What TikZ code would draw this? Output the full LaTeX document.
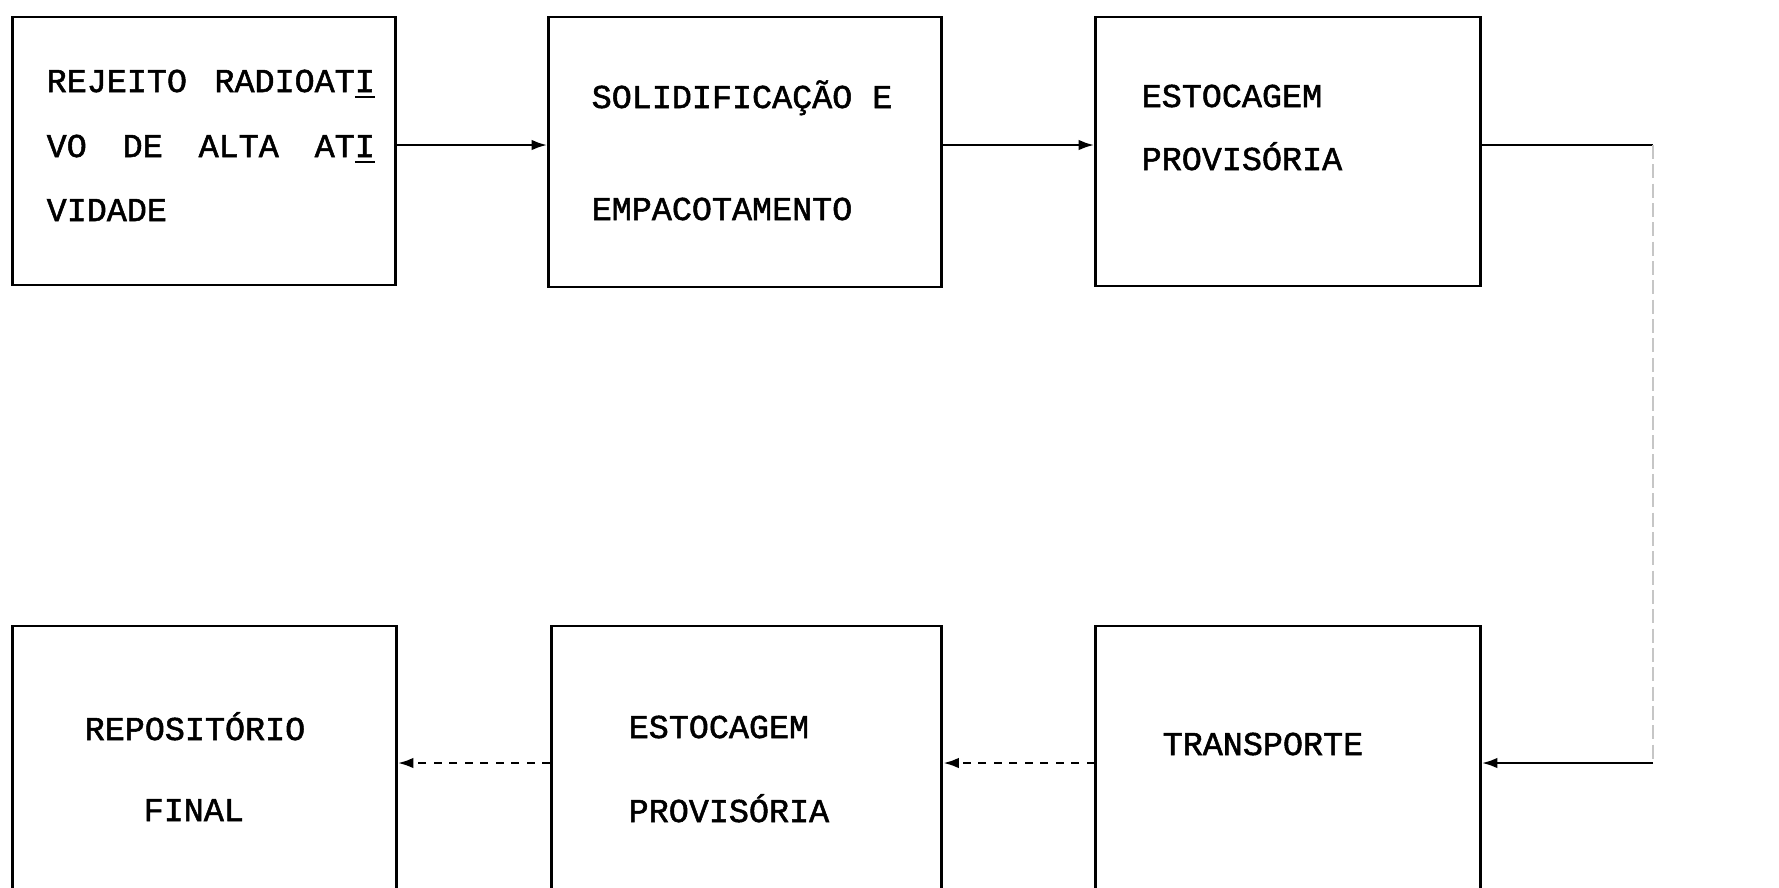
\documentclass[tikz,border=0pt]{standalone}
\usepackage{fontspec}
\newfontfamily\twfont[FakeBold=1.5]{Liberation Mono}
\usetikzlibrary{arrows.meta}
\begin{document}
\begin{tikzpicture}[x=0.01cm,y=-0.01cm,
  box/.style={draw, line width=0.8pt, inner sep=0pt},
  lbl/.style={anchor=base west, inner sep=0pt, font=\twfont\fontsize{9.5}{11}\selectfont},
  plain/.style={line width=0.8pt},
  conn/.style={line width=0.8pt, -{Latex[length=4.5pt,width=3pt]}},
  dconn/.style={line width=0.8pt, dash pattern=on 2.2pt off 2.2pt, -{Latex[length=4.5pt,width=3pt]}},
  faint/.style={line width=0.4pt, gray!45, dash pattern=on 4pt off 1.5pt}]
\clip (0,0) rectangle (1779,887);
\fill[white] (0,0) rectangle (1779,887);
% boxes
\node[box, minimum width=3.82cm, minimum height=2.68cm] (b1) at (204,151) {};
\node[box, minimum width=3.92cm, minimum height=2.70cm] (b2) at (745,152) {};
\node[box, minimum width=3.84cm, minimum height=2.69cm] (b3) at (1288,151.5) {};
\node[box, minimum width=3.83cm, minimum height=3.0cm] (b4) at (204.5,776) {};
\node[box, minimum width=3.90cm, minimum height=3.0cm] (b5) at (746.5,776) {};
\node[box, minimum width=3.84cm, minimum height=3.0cm] (b6) at (1288,776) {};
% texts
\node[lbl] (t1a) at (46,92) {\makebox[3.28cm][l]{REJEITO\hfill RADIOAT\underline{I}}};
\node[lbl] (t1b) at (46,157) {\makebox[3.28cm][l]{VO\hfill DE\hfill ALTA\hfill AT\underline{I}}};
\node[lbl] (t1c) at (46,221) {VIDADE};
\node[lbl] (t2a) at (591,108) {SOLIDIFICAÇÃO E};
\node[lbl] (t2b) at (591,220) {EMPACOTAMENTO};
\node[lbl] (t3a) at (1141,107) {ESTOCAGEM};
\node[lbl] (t3b) at (1141,170) {PROVISÓRIA};
\node[lbl] (t4a) at (84,740) {REPOSITÓRIO};
\node[lbl] (t4b) at (143,821) {FINAL};
\node[lbl] (t5a) at (628,738) {ESTOCAGEM};
\node[lbl] (t5b) at (628,822) {PROVISÓRIA};
\node[lbl] (t6) at (1162,755) {TRANSPORTE};
% connectors
\coordinate (c1) at (1653,145);
\coordinate (c2) at (1653,763);
\draw[conn] (b1.east |- c1) -- (b2.west |- c1);
\draw[conn] (b2.east |- c1) -- (b3.west |- c1);
\draw[plain] (b3.east |- c1) -- (c1);
\draw[faint] (c1) -- (c2);
\draw[conn] (c2) -- (b6.east |- c2);
\draw[dconn] (b6.west |- c2) -- (b5.east |- c2);
\draw[dconn] (b5.west |- c2) -- (b4.east |- c2);
\end{tikzpicture}
\end{document}
